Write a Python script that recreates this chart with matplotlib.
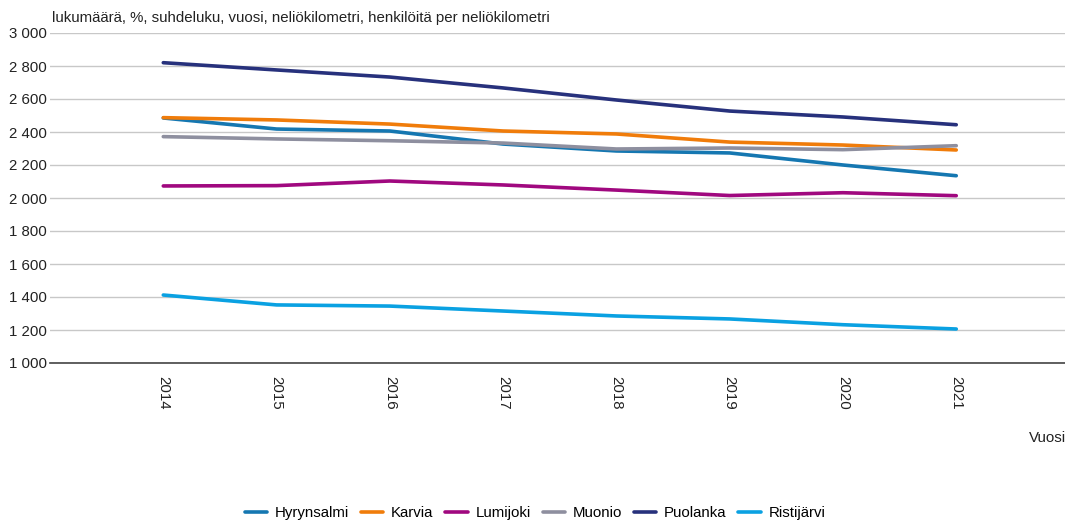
import matplotlib.pyplot as plt

plt.rcParams['font.family'] = ['Liberation Sans', 'DejaVu Sans']

vuodet = ['2014', '2015', '2016', '2017', '2018', '2019', '2020', '2021']

hyrynsalmi = [2485, 2418, 2406, 2327, 2285, 2273, 2200, 2135]
karvia = [2487, 2473, 2448, 2406, 2388, 2339, 2321, 2291]
lumijoki = [2073, 2075, 2103, 2079, 2048, 2015, 2032, 2014]
muonio = [2372, 2358, 2347, 2333, 2297, 2303, 2293, 2317]
puolanka = [2820, 2776, 2733, 2667, 2594, 2527, 2491, 2444]
ristijarvi = [1412, 1352, 1345, 1315, 1285, 1267, 1232, 1206]

sarjat = [
    ('Hyrynsalmi', hyrynsalmi, '#1577b1'),
    ('Karvia', karvia, '#f07c0a'),
    ('Lumijoki', lumijoki, '#a0087f'),
    ('Muonio', muonio, '#8e8f9f'),
    ('Puolanka', puolanka, '#27317c'),
    ('Ristijärvi', ristijarvi, '#0aa1e2'),
]

fs = 10.8
fig = plt.figure(figsize=(10.65, 5.2), dpi=100)
ax = fig.add_axes([50 / 1065, 1 - 363 / 520, 1 - 50 / 1065, 330 / 520])

x = range(len(vuodet))
for nimi, arvot, vari in sarjat:
    ax.plot(x, arvot, color=vari, lw=2.6, label=nimi, solid_capstyle='round')

ax.set_ylim(1000, 3000)
ax.set_xlim(-1, 7.96)
yt = list(range(1000, 3001, 200))
ax.set_yticks(yt)
ax.set_yticklabels([f'{v:,}'.replace(',', ' ') for v in yt], fontsize=fs, color='#222222')
ax.set_xticks(list(x))
ax.set_xticklabels(vuodet, rotation=-90, fontsize=fs, color='#222222')
ax.tick_params(axis='both', length=0, pad=2)
ax.tick_params(axis='x', pad=9)
ax.grid(axis='y', color='#c8c8c8', lw=1)
ax.set_axisbelow(True)
for s in ['top', 'right', 'left']:
    ax.spines[s].set_visible(False)
ax.spines['bottom'].set_color('#444444')
ax.spines['bottom'].set_linewidth(1.2)

fig.text(52 / 1065, 1 - 18 / 520, 'lukumäärä, %, suhdeluku, vuosi, neliökilometri, henkilöitä per neliökilometri',
         fontsize=fs, color='#222222', va='center', ha='left')
fig.text(1066 / 1065, 1 - 438 / 520, 'Vuosi', fontsize=fs, color='#222222', va='center', ha='right')

fig.legend(loc='center', bbox_to_anchor=(535 / 1065, 1 - 513 / 520), ncol=6, frameon=False,
           fontsize=fs, handlelength=1.5, handletextpad=0.5, columnspacing=0.8)

fig.savefig('out.png', dpi=100)
